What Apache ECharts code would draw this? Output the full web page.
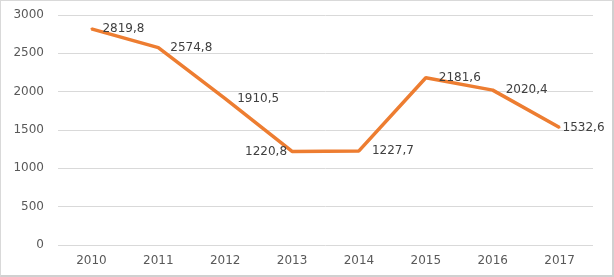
<!DOCTYPE html>
<html><head><meta charset="utf-8">
<script src="https://cdn.jsdelivr.net/npm/echarts@6/dist/echarts.min.js"></script>
<style>
html,body{margin:0;padding:0;background:#fff;}
#frame{position:absolute;left:0;top:0;width:611px;height:274px;border:1px solid #d9d9d9;border-right:2px solid #d0d0d0;border-bottom:2px solid #d0d0d0;}
#c{position:absolute;left:0;top:0;width:614px;height:277px;}
</style></head>
<body><div id="frame"></div><div id="c"></div>
<script>
const categories = ['2010','2011','2012','2013','2014','2015','2016','2017'];
const values = [2819.8, 2574.8, 1910.5, 1220.8, 1227.7, 2181.6, 2020.4, 1532.6];
const labelPositions = ['right','right','right','left','right','right','right','right'];
const labelDistances = [10, 11, 11, 4, 12, 12, 12, 2];
const yTicks = {min:0, max:3000, interval:500};

const chart = echarts.init(document.getElementById('c'), null, {renderer:'canvas'});
const fmt = v => v.toFixed(1).replace('.', ',');
chart.setOption({
  animation:false,
  grid:{left:58, right:21, top:15, bottom:32},
  xAxis:{type:'category', data:categories, boundaryGap:true,
    axisLine:{show:false}, axisTick:{show:false},
    axisLabel:{color:'#595959', fontFamily:'DejaVu Sans', fontSize:12, margin:10}},
  yAxis:{type:'value', min:yTicks.min, max:yTicks.max, interval:yTicks.interval,
    axisLine:{show:false}, axisTick:{show:false},
    splitLine:{lineStyle:{color:'#d9d9d9', width:1}},
    axisLabel:{color:'#595959', fontFamily:'DejaVu Sans', fontSize:12, margin:14, formatter:v=>String(v)}},
  series:[{type:'line',
    data:values.map((v,i)=>({value:v, label:{position:labelPositions[i], distance:labelDistances[i]}})),
    showSymbol:true, symbol:'circle', symbolSize:2, showAllSymbol:true,
    lineStyle:{color:'#ED7D31', width:3.5},
    itemStyle:{color:'#ED7D31'},
    label:{show:true, formatter:p=>fmt(p.value), color:'#404040', fontFamily:'DejaVu Sans', fontSize:12}
  }]
});
</script></body></html>
